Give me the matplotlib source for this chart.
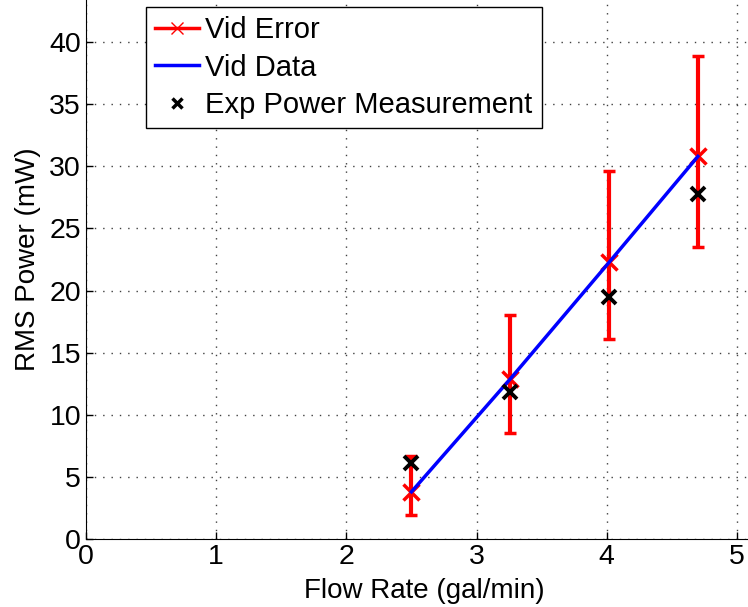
import matplotlib.pyplot as plt
from matplotlib.lines import Line2D

plt.rcParams['font.family'] = ['Liberation Sans', 'DejaVu Sans']

# Flow rate (gal/min)
flow = [2.50, 3.26, 4.02, 4.70]
# Vid data (mW) and error bar ends
vid_power = [3.8, 12.9, 22.3, 30.8]
vid_low = [1.9, 8.5, 16.1, 23.5]
vid_high = [6.7, 18.0, 29.6, 38.9]
# Experimental measurement (mW)
exp_power = [6.1, 11.8, 19.5, 27.8]

err_lo = [v - l for v, l in zip(vid_power, vid_low)]
err_hi = [h - v for v, h in zip(vid_power, vid_high)]

fig = plt.figure(figsize=(7.48, 6.07), dpi=100)
ax = fig.add_axes([86 / 748, 68 / 607, 677 / 748, 559 / 607])

ax.errorbar(flow, vid_power, yerr=[err_lo, err_hi], fmt='x', color='red',
            ecolor='red', elinewidth=3, capsize=4, capthick=3,
            markersize=11, markeredgewidth=2.5, zorder=3)
ax.plot(flow, vid_power, color='blue', linewidth=2.5, zorder=4)
ax.plot(flow, exp_power, 'x', color='black', markersize=10,
        markeredgewidth=2.8, zorder=5)

ax.set_xlim(0, 5.2)
ax.set_ylim(0, 45)
ax.set_xticks(range(0, 6))
ax.set_yticks(range(0, 45, 5))
ax.grid(True, color='0.25', linestyle=(0, (1, 5)), linewidth=1)
ax.tick_params(direction='in', length=5, labelsize=20.5, width=1)
ax.spines['top'].set_visible(False)
ax.spines['right'].set_visible(False)

ax.set_xlabel('Flow Rate (gal/min)', fontsize=20, labelpad=6)
ax.set_ylabel('RMS Power (mW)', fontsize=20, labelpad=6)

handles = [
    Line2D([], [], color='red', linewidth=2.5, marker='x', markersize=9,
           markeredgewidth=1),
    Line2D([], [], color='blue', linewidth=2.5),
    Line2D([], [], color='black', linestyle='none', marker='x',
           markersize=7, markeredgewidth=2.5),
]
leg = ax.legend(handles, ['Vid Error', 'Vid Data', 'Exp Power Measurement'],
                loc='upper left', bbox_to_anchor=(146 / 748, 1 - 7 / 607),
                bbox_transform=fig.transFigure, fontsize=21, fancybox=False,
                framealpha=1, edgecolor='black', borderaxespad=0,
                handlelength=1.5, handletextpad=0.2, labelspacing=0.32,
                borderpad=0.32)
leg.get_frame().set_linewidth(1)

fig.savefig('out.png', dpi=100)
